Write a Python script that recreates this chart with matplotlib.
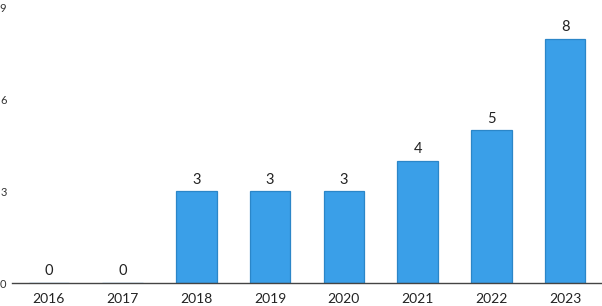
import matplotlib.pyplot as plt

years = ['2016', '2017', '2018', '2019', '2020', '2021', '2022', '2023']
counts = [0, 0, 3, 3, 3, 4, 5, 8]

plt.rcParams['font.family'] = ['Lato', 'DejaVu Sans']

fig = plt.figure(figsize=(6.02, 3.06), dpi=100)
ax = fig.add_axes([0.02, 0.075, 0.98, 0.899])

x = list(range(len(years)))
bars = ax.bar(x, counts, width=0.55, color='#3a9fe8', edgecolor='#2b86c8', linewidth=0.9)

# value labels above bars
for xi, v in zip(x, counts):
    ax.text(xi, v + 0.15, str(v), ha='center', va='bottom', fontsize=10.5, color='#222222')

ax.set_xlim(-0.5, 7.5)
ax.set_ylim(0, 9)
ax.set_yticks([0, 3, 6, 9])
ax.set_xticks(x)
ax.set_xticklabels(years)

for s in ['top', 'right', 'left']:
    ax.spines[s].set_visible(False)
ax.spines['bottom'].set_color('#444444')
ax.spines['bottom'].set_linewidth(1.0)

ax.tick_params(axis='x', length=0, pad=7, labelsize=10, colors='#222222')
ax.tick_params(axis='y', length=0, pad=4, labelsize=8, colors='#333333')

fig.savefig('out.png', dpi=100)
